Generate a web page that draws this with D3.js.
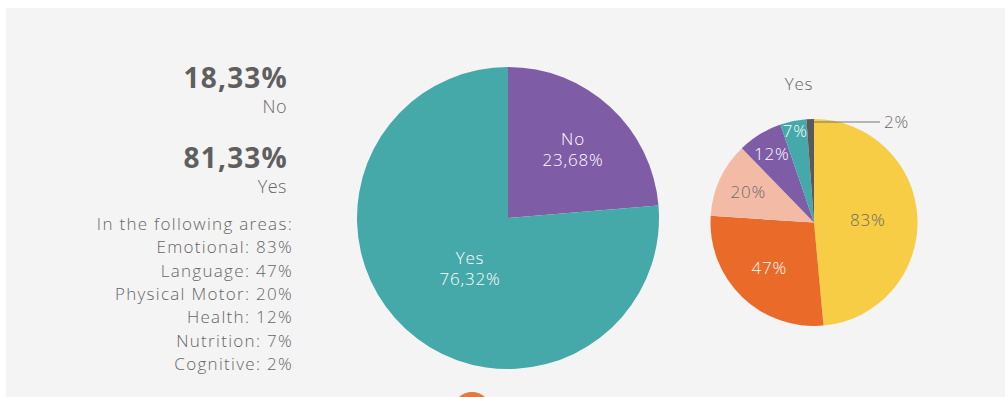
<!DOCTYPE html>
<html>
<head>
<meta charset="utf-8">
<script src="https://cdn.jsdelivr.net/npm/d3@7"></script>
<style>
  body { margin: 0; background: #fff; }
  svg { display: block; font-family: "Open Sans", Lato, sans-serif; }
</style>
</head>
<body>
<svg id="chart" width="1006" height="397"></svg>
<script>
// main pie: Yes / No
var mainLabels = ["No", "Yes"];
var mainValues = [23.68, 76.32];
var mainText = ["23,68%", "76,32%"];
var mainColors = ["#7e5ca6", "#45a8a9"];

// areas pie (only for "Yes")
var areaNames = ["Emotional", "Language", "Physical Motor", "Health", "Nutrition", "Cognitive"];
var areaValues = [83, 47, 20, 12, 7, 2];
var areaColors = ["#f6cd45", "#ea6a2a", "#f3bba6", "#7e5ca6", "#45a8a9", "#5a5a5a"];
var areaTextColors = ["#6b6b6b", "#fff", "#6b6b6b", "#fff", "#fff", "#6b6b6b"];

// headline figures on the left
var summaryValues = ["18,33%", "81,33%"];
var summaryLabels = ["No", "Yes"];

var svg = d3.select("#chart");

// light gray panel
svg.append("rect")
  .attr("x", 6).attr("y", 8)
  .attr("width", 999).attr("height", 400)
  .attr("fill", "#f4f4f4");

// orange blob cut off at the bottom
svg.append("ellipse")
  .attr("cx", 472).attr("cy", 408)
  .attr("rx", 18).attr("ry", 16)
  .attr("fill", "#df7a40");

// ---- left text block ----
var left = svg.append("g").attr("text-anchor", "end").attr("fill", "#666");
summaryValues.forEach(function(v, i) {
  var y0 = 88 + i * 80;
  left.append("text")
    .attr("x", 288).attr("y", y0)
    .attr("font-size", 28).attr("font-weight", 700)
    .attr("letter-spacing", 1.2)
    .attr("fill", "#5f5f5f")
    .text(v);
  left.append("text")
    .attr("x", 287).attr("y", y0 + 25)
    .attr("font-size", 18).attr("font-weight", 300)
    .attr("letter-spacing", 0.5)
    .text(summaryLabels[i]);
});

var lines = ["In the following areas:"].concat(areaNames.map(function(n, i) {
  return n + ": " + areaValues[i] + "%";
}));
left.selectAll("text.area")
  .data(lines)
  .join("text")
  .classed("area", true)
  .attr("x", 293)
  .attr("y", (d, i) => 230 + i * 23.3)
  .attr("font-size", 17)
  .attr("font-weight", 300)
  .attr("letter-spacing", 1.3)
  .text(d => d);

// ---- main pie ----
var mainR = 151;
var gMain = svg.append("g").attr("transform", "translate(508,218)");
var mainPie = d3.pie().sort(null)(mainValues);
var mainArc = d3.arc().innerRadius(0).outerRadius(mainR);

gMain.selectAll("path")
  .data(mainPie)
  .join("path")
  .attr("d", mainArc)
  .attr("fill", (d, i) => mainColors[i]);

var mainLabelPos = [[65, -73], [-38, 46]];
mainPie.forEach(function(d, i) {
  var t = gMain.append("text")
    .attr("text-anchor", "middle")
    .attr("fill", "#fff")
    .attr("font-size", 17)
    .attr("font-weight", 300)
    .attr("letter-spacing", 0.8)
    .attr("transform", "translate(" + mainLabelPos[i] + ")");
  t.append("tspan").attr("x", 0).attr("dy", 0).text(mainLabels[i]);
  t.append("tspan").attr("x", 0).attr("dy", 21).text(mainText[i]);
});

// ---- areas pie ----
var areaR = 103.5;
var cx = 814, cy = 222.5;
var gArea = svg.append("g").attr("transform", "translate(" + cx + "," + cy + ")");
var areaPie = d3.pie().sort(null)(areaValues);
var areaArc = d3.arc().innerRadius(0).outerRadius(areaR);

svg.append("text")
  .attr("x", 799).attr("y", 90)
  .attr("text-anchor", "middle")
  .attr("fill", "#666")
  .attr("font-size", 17)
  .attr("font-weight", 300)
  .attr("letter-spacing", 0.8)
  .text("Yes");

gArea.selectAll("path")
  .data(areaPie)
  .join("path")
  .attr("d", areaArc)
  .attr("fill", (d, i) => areaColors[i]);

// label radius per slice (fraction of r)
var labelR = [0.52, 0.62, 0.7, 0.78, 0.9];
areaPie.slice(0, 5).forEach(function(d, i) {
  var a = (d.startAngle + d.endAngle) / 2;
  var r = areaR * labelR[i];
  gArea.append("text")
    .attr("x", Math.sin(a) * r)
    .attr("y", -Math.cos(a) * r)
    .attr("dy", "0.35em")
    .attr("text-anchor", "middle")
    .attr("fill", areaTextColors[i])
    .attr("font-size", 17)
    .attr("font-weight", 300)
    .attr("letter-spacing", 0.8)
    .text(areaValues[i] + "%");
});

// leader line for the small slice
var ly = -areaR + 3;
gArea.append("line")
  .attr("x1", 0).attr("y1", ly)
  .attr("x2", 66).attr("y2", ly)
  .attr("stroke", "#777").attr("stroke-width", 1);
gArea.append("text")
  .attr("x", 70).attr("y", ly)
  .attr("dy", "0.35em")
  .attr("fill", "#6b6b6b")
  .attr("font-size", 17)
  .attr("font-weight", 300)
  .attr("letter-spacing", 0.8)
  .text(areaValues[5] + "%");
</script>
</body>
</html>
